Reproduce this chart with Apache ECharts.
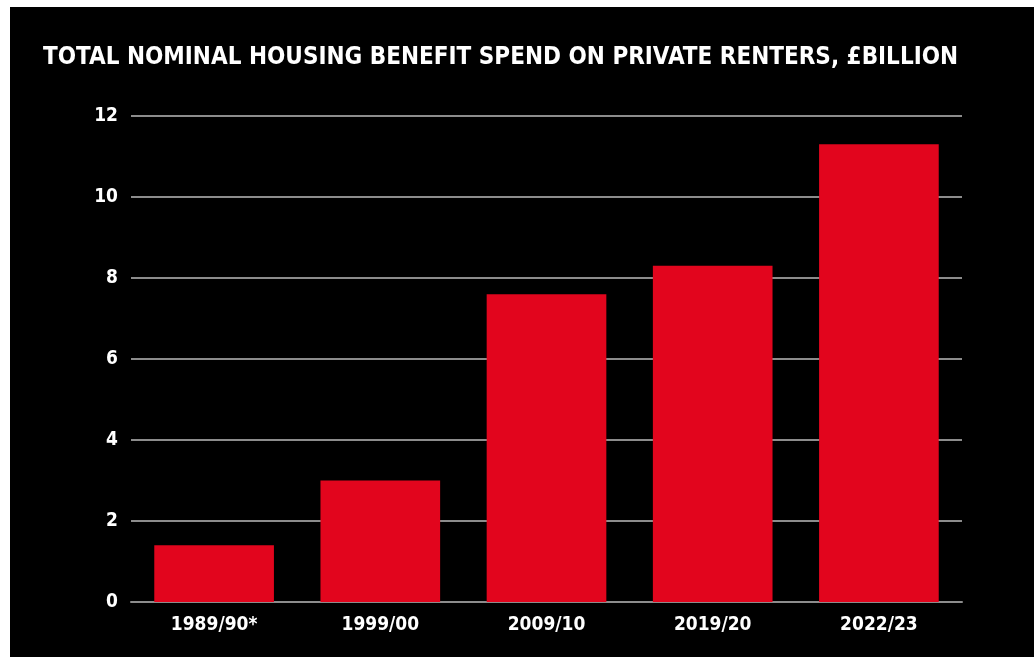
<!DOCTYPE html>
<html>
<head>
<meta charset="utf-8">
<script src="https://cdn.jsdelivr.net/npm/echarts@6/dist/echarts.min.js"></script>
<style>
html, body { margin: 0; padding: 0; background: #fff; }
#chart {
  position: absolute;
  left: 10px;
  top: 7px;
  width: 1024px;
  height: 650px;
  background: #000;
}
</style>
</head>
<body>
<div id="chart"></div>
<script>
const titleText = 'TOTAL NOMINAL HOUSING BENEFIT SPEND ON PRIVATE RENTERS, £BILLION';
const categories = ['1989/90*', '1999/00', '2009/10', '2019/20', '2022/23'];
const spend = [1.4, 3.0, 7.6, 8.3, 11.3];
const yTicks = [0, 2, 4, 6, 8, 10, 12];

const font = '"DejaVu Sans Condensed", "Liberation Sans Narrow", sans-serif';

const myChart = echarts.init(document.getElementById('chart'));
const option = {
  backgroundColor: '#000',
  animation: false,
  title: {
    text: titleText,
    left: 28,
    top: 34,
    textStyle: {
      color: '#fff',
      fontFamily: font,
      fontWeight: 'bold',
      fontSize: 24,
    },
  },
  grid: {
    left: 121,
    right: 72,
    top: 109,
    bottom: 55,
  },
  xAxis: {
    type: 'category',
    data: categories,
    axisTick: { show: false },
    axisLine: { lineStyle: { color: '#8c8c8c', width: 2 } },
    axisLabel: {
      color: '#fff',
      fontFamily: font,
      fontWeight: 'bold',
      fontSize: 19,
      margin: 14,
    },
  },
  yAxis: {
    type: 'value',
    min: yTicks[0],
    max: yTicks[yTicks.length - 1],
    interval: 2,
    axisLine: { show: false },
    axisTick: { show: false },
    splitLine: { lineStyle: { color: '#8c8c8c', width: 2 } },
    axisLabel: {
      color: '#fff',
      fontFamily: font,
      fontWeight: 'bold',
      fontSize: 19,
      margin: 13,
    },
  },
  series: [
    {
      type: 'bar',
      data: spend,
      barWidth: '72%',
      itemStyle: { color: '#e2051d' },
    },
  ],
};
myChart.setOption(option);
</script>
</body>
</html>
